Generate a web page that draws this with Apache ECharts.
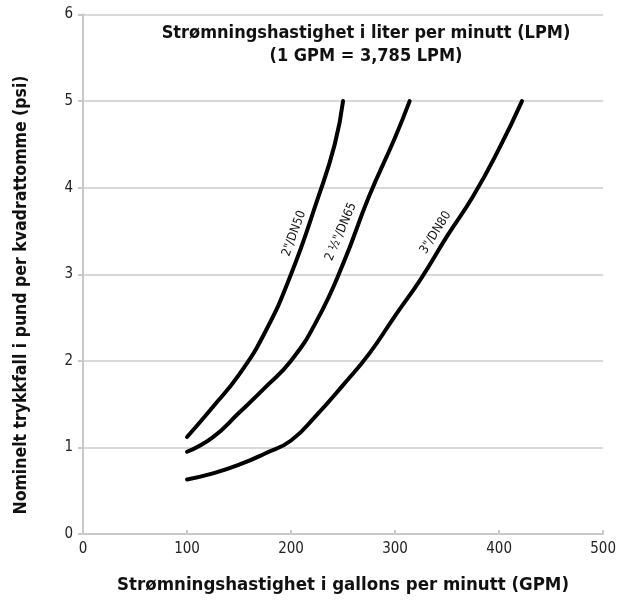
<!DOCTYPE html>
<html><head><meta charset="utf-8">
<script src="https://cdn.jsdelivr.net/npm/echarts@6/dist/echarts.min.js"></script>
<style>html,body{margin:0;padding:0;background:#fff}#c{width:619px;height:603px}</style>
</head><body><div id="c"></div>
<script>
const xTicks = [0, 100, 200, 300, 400, 500];
const yTicks = [0, 1, 2, 3, 4, 5, 6];
const seriesNames = ['2"/DN50', '2 ½"/DN65', '3"/DN80'];
const dn50 = [[100,1.12],[125,1.47],[150,1.84],[175,2.33],[200,3.0],[225,3.85],[242,4.5],[250,5.0]];
const dn65 = [[100,0.95],[125,1.12],[150,1.4],[175,1.69],[200,2.0],[225,2.47],[250,3.12],[275,3.9],[300,4.58],[314,5.0]];
const dn80 = [[100,0.63],[125,0.7],[150,0.8],[175,0.93],[200,1.08],[225,1.38],[250,1.72],[275,2.08],[300,2.52],[325,2.95],[350,3.44],[375,3.9],[400,4.45],[422,5.0]];
const labelAnchors = [[203,3.47],[248,3.49],[339,3.48]];
const labelAngles = [70, 67, 58];
const titleText = 'Strømningshastighet i liter per minutt (LPM)\n(1 GPM = 3,785 LPM)';
const xName = 'Strømningshastighet i gallons per minutt (GPM)';
const yName = 'Nominelt trykkfall i pund per kvadrattomme (psi)';

const FONT = '"DejaVu Sans Condensed", "Liberation Sans Narrow", sans-serif';
const chart = echarts.init(document.getElementById('c'), null, {renderer:'canvas'});
const lineSeries = [dn50, dn65, dn80].map((d, i) => ({
  name: seriesNames[i], type: 'line', data: d, smooth: 0.5, symbol: 'none',
  lineStyle: {color: '#000', width: 4, cap: 'round'}, z: 3
}));
chart.setOption({
  animation: false,
  title: {text: titleText, left: 361, top: 17, textAlign: 'center',
    textStyle: {fontFamily: FONT, fontSize: 18, fontWeight: 'bold', color: '#111', lineHeight: 23}},
  grid: {left: 83, right: 11, top: 14.5, bottom: 69, containLabel: false},
  xAxis: {type: 'value', min: 0, max: 500, interval: 100,
    name: xName, nameLocation: 'middle', nameGap: 42,
    nameTextStyle: {fontFamily: FONT, fontSize: 18.5, fontWeight: 'bold', color: '#111'},
    axisLine: {show: true, lineStyle: {color: '#c8c8c8', width: 2}},
    axisTick: {show: true, inside: true, length: 4, lineStyle: {color: '#c8c8c8', width: 2}},
    axisLabel: {margin: 8, fontFamily: FONT, fontSize: 15, color: '#222'},
    splitLine: {show: false}},
  yAxis: {type: 'value', min: 0, max: 6, interval: 1,
    axisLine: {show: true, lineStyle: {color: '#c8c8c8', width: 2}},
    axisTick: {show: true, inside: false, length: 5, lineStyle: {color: '#c8c8c8', width: 2}},
    axisLabel: {margin: 10, fontFamily: FONT, fontSize: 15, color: '#222'},
    splitLine: {show: true, lineStyle: {color: '#d9d9d9', width: 2}}},
  series: lineSeries
});
const g = [];
labelAnchors.forEach((a, i) => {
  const p = chart.convertToPixel({gridIndex: 0}, a);
  g.push({type: 'text', x: p[0], y: p[1], rotation: labelAngles[i] * Math.PI / 180,
    style: {text: seriesNames[i], fontFamily: FONT, fontSize: 12.5, fill: '#111', align: 'center', verticalAlign: 'middle'}, z: 10});
});
g.push({type: 'text', x: 21, y: 295, rotation: Math.PI / 2,
  style: {text: yName, fontFamily: FONT, fontSize: 17.5, fontWeight: 'bold', fill: '#111', align: 'center', verticalAlign: 'middle'}, z: 10});
chart.setOption({graphic: g});
</script></body></html>
